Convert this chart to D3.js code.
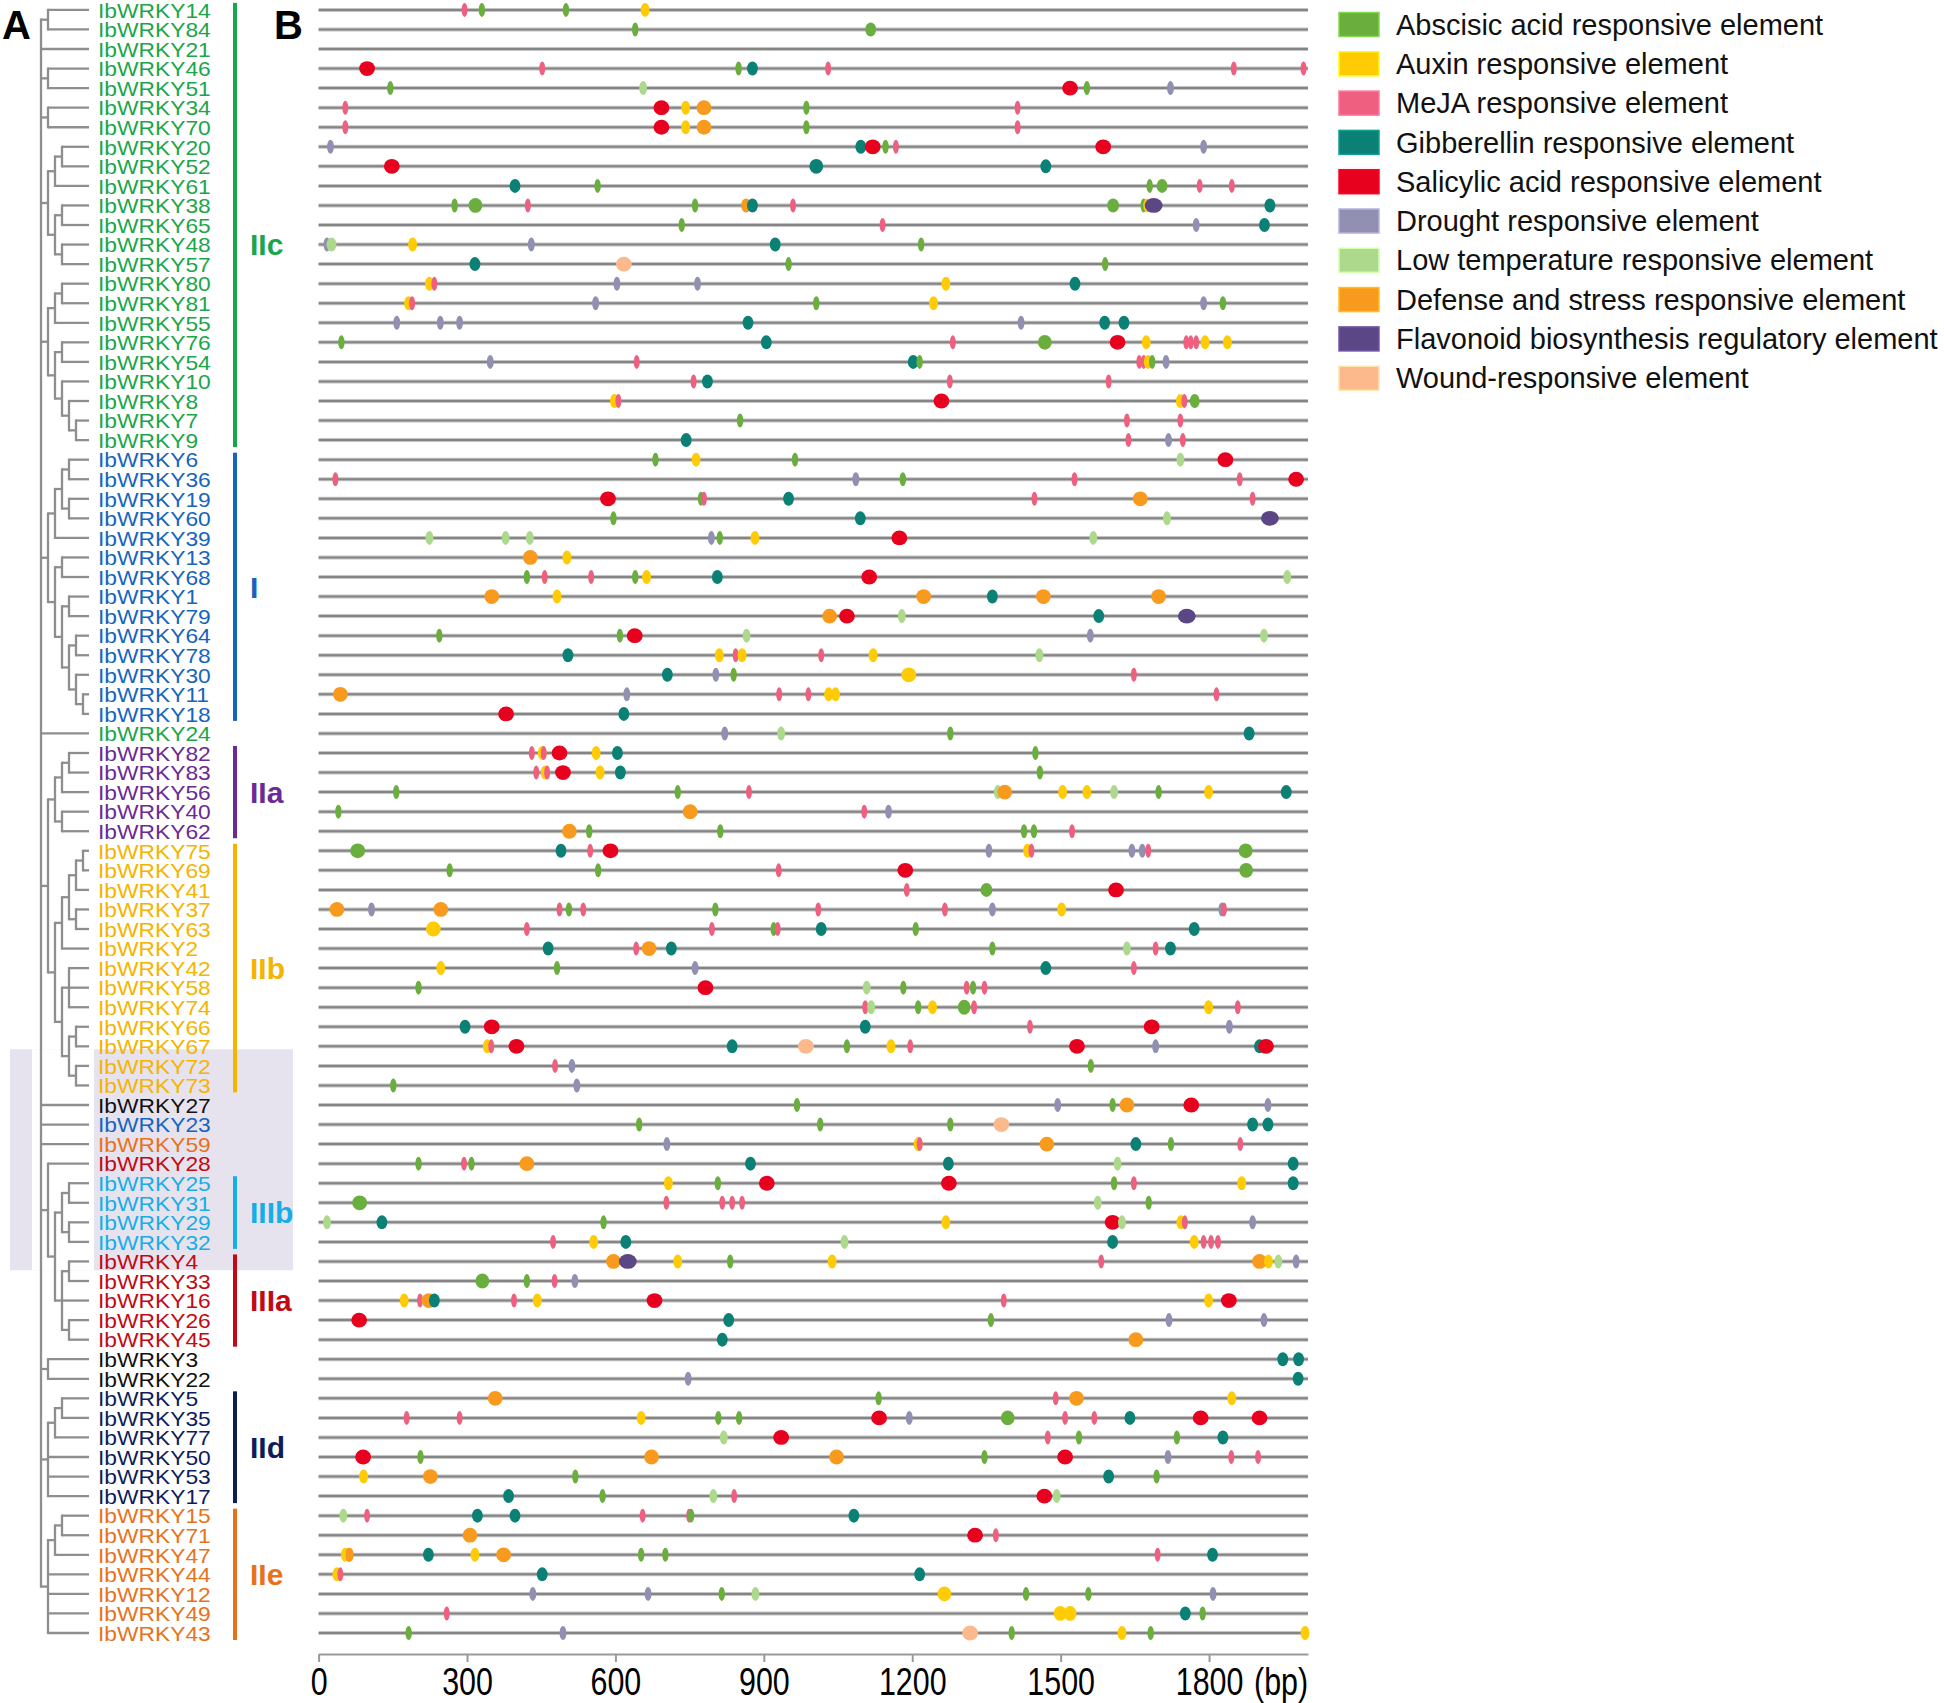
<!DOCTYPE html>
<html><head><meta charset="utf-8">
<script src="https://cdn.jsdelivr.net/npm/d3@7"></script>
<style>
html,body{margin:0;padding:0;background:#fff;}
svg{display:block;font-family:"Liberation Sans",Arial,sans-serif;}
</style></head>
<body>
<svg id="chart" width="1944" height="1703"></svg>
<script>
// ---------------- DATA ----------------
const genes = ["IbWRKY14","IbWRKY84","IbWRKY21","IbWRKY46","IbWRKY51","IbWRKY34","IbWRKY70","IbWRKY20","IbWRKY52","IbWRKY61",
"IbWRKY38","IbWRKY65","IbWRKY48","IbWRKY57","IbWRKY80","IbWRKY81","IbWRKY55","IbWRKY76","IbWRKY54","IbWRKY10",
"IbWRKY8","IbWRKY7","IbWRKY9","IbWRKY6","IbWRKY36","IbWRKY19","IbWRKY60","IbWRKY39","IbWRKY13","IbWRKY68",
"IbWRKY1","IbWRKY79","IbWRKY64","IbWRKY78","IbWRKY30","IbWRKY11","IbWRKY18","IbWRKY24","IbWRKY82","IbWRKY83",
"IbWRKY56","IbWRKY40","IbWRKY62","IbWRKY75","IbWRKY69","IbWRKY41","IbWRKY37","IbWRKY63","IbWRKY2","IbWRKY42",
"IbWRKY58","IbWRKY74","IbWRKY66","IbWRKY67","IbWRKY72","IbWRKY73","IbWRKY27","IbWRKY23","IbWRKY59","IbWRKY28",
"IbWRKY25","IbWRKY31","IbWRKY29","IbWRKY32","IbWRKY4","IbWRKY33","IbWRKY16","IbWRKY26","IbWRKY45","IbWRKY3",
"IbWRKY22","IbWRKY5","IbWRKY35","IbWRKY77","IbWRKY50","IbWRKY53","IbWRKY17","IbWRKY15","IbWRKY71","IbWRKY47",
"IbWRKY44","IbWRKY12","IbWRKY49","IbWRKY43"];

const geneClass = ["IIc","IIc","IIc","IIc","IIc","IIc","IIc","IIc","IIc","IIc",
"IIc","IIc","IIc","IIc","IIc","IIc","IIc","IIc","IIc","IIc",
"IIc","IIc","IIc","I","I","I","I","I","I","I",
"I","I","I","I","I","I","I","IIc","IIa","IIa",
"IIa","IIa","IIa","IIb","IIb","IIb","IIb","IIb","IIb","IIb",
"IIb","IIb","IIb","IIb","IIb","IIb","other","I","IIe","IIIa",
"IIIb","IIIb","IIIb","IIIb","IIIa","IIIa","IIIa","IIIa","IIIa","other",
"other","IId","IId","IId","IId","IId","IId","IIe","IIe","IIe",
"IIe","IIe","IIe","IIe"];

// phylogenetic tree topology (leaf numbers = IbWRKY ids)
const tree = [
  [14,84], 21, [46,51], [34,70],
  [[[20,52],61],[[38,65],[48,57]]],
  [[[80,81],55],[[76,54],[10,[8,[7,9]]]]],
  [[[[6,36],[19,60]],39],[[13,68],[[1,79],[[64,78],[30,[11,18]]]]]],
  24,
  [[[[82,83],56],[40,62]],[[[[[75,69],41],[37,63]],2],[[42,58,74],[[66,67],[72,73]]]]],
  27, 23, 59,
  [28,[[[25,31],[29,32]],[[4,33],16,[26,45]]]],
  [3,22],
  [[[5,35],77],50,53,17],
  [[[15,71],47],44,12,49,43]
];

const groupNames = ["IIc","I","IIa","IIb","IIIb","IIIa","IId","IIe"];
const groupFirst = ["IbWRKY14","IbWRKY6","IbWRKY82","IbWRKY75","IbWRKY25","IbWRKY4","IbWRKY5","IbWRKY15"];
const groupLast  = ["IbWRKY9","IbWRKY18","IbWRKY62","IbWRKY73","IbWRKY32","IbWRKY45","IbWRKY17","IbWRKY43"];
const groupLabelAt = ["IbWRKY48",null,null,null,null,null,null,null];
const highlightFirst = "IbWRKY72", highlightLast = "IbWRKY4";

const elementCodes = ["A","Y","M","T","R","D","L","O","F","W"];
const elementNames = ["Abscisic acid responsive element","Auxin responsive element","MeJA responsive element",
"Gibberellin responsive element","Salicylic acid responsive element","Drought responsive element",
"Low temperature responsive element","Defense and stress responsive element",
"Flavonoid biosynthesis regulatory element","Wound-responsive element"];
// typical motif span (bp) per element type
const elementSpan = [13,18,12,22,32,14,16,30,36,32];

const axisTicks = [0,300,600,900,1200,1500,1800];
const promoterLength = 2000;

// cis-element sites per gene: [type, position (bp), optional span (bp)]
const sites = [
 [["M",295],["A",330],["A",500],["Y",660]],
 [["A",640],["A",1116,22]],
 [],
 [["R",98],["M",452],["A",849],["T",877],["M",1030],["M",1850],["M",1991]],
 [["A",145],["L",656],["R",1519],["A",1553],["D",1722]],
 [["M",54],["R",693],["Y",742],["O",779],["A",986],["M",1413]],
 [["M",54],["R",693],["Y",742],["O",779],["A",986],["M",1413]],
 [["D",24],["T",1096],["R",1120],["A",1146],["M",1167],["R",1586],["D",1789]],
 [["R",148],["T",1006,28],["T",1470]],
 [["T",397],["A",564],["A",1680],["A",1705,22],["M",1781],["M",1846]],
 [["A",275],["A",317,28],["M",423],["A",761],["O",864,20],["T",877],["M",959],["A",1606,24],["A",1668],["Y",1676],["F",1688],["T",1923]],
 [["A",734],["M",1140],["D",1774],["T",1912]],
 [["D",17],["L",26,20],["Y",190],["D",430],["T",923],["A",1218]],
 [["T",316],["W",617],["A",950],["A",1590]],
 [["Y",224],["M",234],["D",603],["D",766],["Y",1268],["T",1529]],
 [["Y",182],["M",189],["D",560],["A",1006],["Y",1243],["D",1789],["A",1828]],
 [["D",158],["D",246],["D",285],["T",868],["D",1420],["T",1589],["T",1628]],
 [["A",46],["T",905],["M",1282],["A",1468,28],["R",1615],["Y",1673],["M",1754],["M",1763],["M",1774],["Y",1792],["Y",1837]],
 [["D",347],["M",643],["T",1202],["A",1215],["M",1659],["M",1668],["Y",1677],["A",1685],["D",1713]],
 [["M",758],["T",786],["M",1276],["M",1597]],
 [["Y",598],["M",606],["R",1259],["Y",1742],["M",1750],["A",1771,20]],
 [["A",852],["M",1634],["M",1742]],
 [["T",743],["M",1637],["D",1718],["M",1747]],
 [["A",681],["Y",763],["A",963],["L",1742],["R",1833]],
 [["M",34],["D",1086],["A",1181],["M",1528],["M",1862],["R",1976]],
 [["R",585],["A",773],["M",779],["T",950],["M",1447],["O",1661],["M",1888]],
 [["A",596],["T",1095],["L",1715],["F",1923]],
 [["L",224],["L",378],["L",427],["D",794],["A",811],["Y",882],["R",1174],["L",1566]],
 [["O",428],["Y",502]],
 [["A",421],["M",457],["M",551],["A",640],["Y",663],["T",806],["R",1113],["L",1958]],
 [["O",350],["Y",482],["O",1223],["T",1362],["O",1465],["O",1698]],
 [["O",1033],["R",1068],["L",1179],["T",1577],["F",1755]],
 [["A",244],["A",609],["R",639],["L",865],["D",1560],["L",1911]],
 [["T",504],["Y",810],["M",843],["Y",856],["M",1016],["Y",1121],["L",1457]],
 [["T",705],["D",803],["A",839],["Y",1193,30],["M",1648]],
 [["O",44],["D",623],["M",931],["M",990],["Y",1031],["Y",1045],["M",1815]],
 [["R",379],["T",617]],
 [["D",821],["L",935],["A",1277],["T",1881]],
 [["M",431],["Y",452],["M",455],["R",487],["Y",561],["T",604],["A",1449]],
 [["M",440],["Y",458],["M",462],["R",494],["Y",569],["T",610],["A",1458]],
 [["A",157],["A",726],["M",870],["L",1373],["O",1387],["Y",1504],["Y",1553],["L",1608],["A",1698],["Y",1799],["T",1956]],
 [["A",40],["O",751],["M",1103],["D",1152]],
 [["O",507],["A",547],["A",812],["A",1426],["A",1446],["M",1523]],
 [["A",79,30],["T",490],["M",549],["R",590],["D",1355],["Y",1433],["M",1441],["D",1644],["D",1665],["M",1677],["A",1874,28]],
 [["A",265],["A",565],["M",930],["R",1186],["A",1875,28]],
 [["M",1189],["A",1350,24],["R",1612]],
 [["O",37],["D",107],["O",247],["M",487],["A",506],["M",535],["A",802],["M",1010],["M",1266],["D",1362],["Y",1502],["D",1826],["M",1830]],
 [["Y",232,30],["M",421],["M",795],["A",920],["M",928],["T",1016],["A",1207],["T",1770]],
 [["T",464],["M",642],["O",668],["T",713],["A",1362],["L",1634],["M",1692],["T",1722]],
 [["Y",247],["A",482],["D",761],["T",1470],["M",1648]],
 [["A",202],["R",782],["L",1108],["A",1182],["M",1310],["A",1323],["M",1346]],
 [["M",1105],["L",1117],["A",1212],["Y",1241],["A",1305,26],["M",1325],["Y",1799],["M",1858]],
 [["T",296],["R",350],["T",1105],["M",1438],["R",1684],["D",1841]],
 [["Y",341],["M",349],["R",400],["T",836],["W",985],["A",1068],["Y",1157],["M",1196],["R",1533],["D",1692],["T",1902],["R",1915]],
 [["M",478],["D",512],["A",1561]],
 [["A",151],["D",522]],
 [["A",967],["D",1494],["A",1605],["O",1634],["R",1764],["D",1919]],
 [["A",648],["A",1014],["A",1277],["W",1380],["T",1888],["T",1919]],
 [["D",704],["Y",1212],["M",1215],["O",1472],["T",1652],["A",1723],["M",1863]],
 [["A",202],["M",294],["A",309],["O",421],["T",873],["T",1273],["L",1615],["T",1970]],
 [["Y",707],["A",807],["R",906],["R",1274],["A",1608],["M",1648],["Y",1866],["T",1970]],
 [["A",83,30],["M",703],["M",816],["M",836],["M",856],["L",1575],["A",1678]],
 [["L",17],["T",128],["A",576],["Y",1268],["R",1605],["L",1624],["Y",1743],["M",1751],["D",1888]],
 [["M",474],["Y",556],["T",621],["L",1063],["T",1605],["Y",1770],["M",1789],["M",1804],["M",1818]],
 [["O",596],["F",625],["Y",726],["A",832],["Y",1038],["M",1582],["O",1902],["Y",1920],["L",1940],["D",1976]],
 [["A",331,28],["A",421],["M",477],["D",518]],
 [["Y",173],["M",205],["O",223],["T",234],["M",395],["Y",442],["R",679],["M",1385],["Y",1799],["R",1840]],
 [["R",82],["T",829],["A",1359],["D",1719],["D",1911]],
 [["T",816],["O",1652]],
 [["T",1949],["T",1981]],
 [["D",747],["T",1980]],
 [["O",357],["A",1132],["M",1490],["O",1532],["Y",1846]],
 [["M",178],["M",285],["Y",652],["A",808],["A",850],["R",1133],["D",1194],["A",1393,28],["M",1509],["M",1568],["T",1640],["R",1783],["R",1902]],
 [["L",819],["R",935],["M",1474],["A",1537],["A",1735],["T",1828]],
 [["R",90],["A",206],["O",673],["O",1047],["A",1346],["R",1509],["D",1717],["M",1845],["M",1899]],
 [["Y",91],["O",226],["A",519],["T",1597],["A",1694]],
 [["T",384],["A",574],["L",798],["M",840],["R",1467],["L",1492]],
 [["L",50],["M",98],["T",321],["T",397],["M",655],["M",749],["A",753],["T",1082]],
 [["O",306],["R",1327],["M",1369]],
 [["Y",54],["M",61],["O",63,16],["T",222],["Y",316],["O",374],["A",652],["A",701],["M",1696],["T",1807]],
 [["Y",37],["M",44],["T",452],["T",1215]],
 [["D",433],["D",666],["A",815],["L",883],["Y",1265,28],["A",1430],["A",1556],["D",1808]],
 [["M",259],["Y",1499,26],["Y",1519,26],["T",1752],["A",1787]],
 [["A",182],["D",494],["W",1317],["A",1401],["Y",1624],["A",1682],["Y",1994]]
];

// ---------------- STYLE ----------------
const elementColors = ["#6aae3d","#ffcb05","#ee5f80","#0b8176","#e8001f","#9190b3","#acd98c","#f89a1d","#5b4686","#fcb98b"];
const classColors = {"IIc":"#1aa64b","I":"#1565be","IIa":"#6a2a97","IIb":"#f5b400","IIIb":"#16aee7","IIIa":"#c10a15","IId":"#0d1d5a","IIe":"#e8721c","other":"#111111"};

const svg = d3.select("#chart");
svg.append("rect").attr("width",1944).attr("height",1703).attr("fill","#fff");

const x = d3.scaleLinear().domain([0, promoterLength]).range([318.6, 1308]);
const y = d3.scalePoint().domain(genes).range([9.9, 1633]);
const step = y.step();

// highlight box
const hTop = y(highlightFirst) - 0.85*step, hBot = y(highlightLast) + 0.45*step;
svg.append("rect").attr("x",10).attr("y",hTop).attr("width",283).attr("height",hBot-hTop).attr("fill","#e7e3ee");
svg.append("rect").attr("x",32).attr("y",hTop).attr("width",62).attr("height",hBot-hTop).attr("fill","#fff");

// panel letters
svg.append("text").attr("x",2).attr("y",39).attr("font-size",40).attr("font-weight","bold").text("A");
svg.append("text").attr("x",274).attr("y",39).attr("font-size",40).attr("font-weight","bold").text("B");

// ---------------- TREE ----------------
const root = d3.hierarchy(tree, d => Array.isArray(d) ? d : null);
const treeX0 = 41, treeStep = 7, leafX = 89;
root.eachAfter(n => {
  if (!n.children) { n.py = y("IbWRKY"+n.data); n.px = leafX; }
  else { n.py = (n.children[0].py + n.children[n.children.length-1].py)/2; n.px = treeX0 + n.depth*treeStep; }
});
const tg = svg.append("g").attr("stroke","#8e8e8e").attr("stroke-width",2.3).attr("fill","none");
root.each(n => {
  if (!n.children) return;
  const c0 = n.children[0], c1 = n.children[n.children.length-1];
  tg.append("line").attr("x1",n.px).attr("x2",n.px).attr("y1",c0.py-1.1).attr("y2",c1.py+1.1);
  n.children.forEach(c => tg.append("line").attr("x1",n.px).attr("x2",c.px).attr("y1",c.py).attr("y2",c.py));
});

// gene labels
svg.append("g").selectAll("text").data(genes).join("text")
  .attr("transform",d=>`translate(98,${y(d)+0.6}) scale(1.14,1)`).attr("dy","0.36em")
  .attr("font-size",20).attr("fill",(d,i)=>classColors[geneClass[i]]).text(d=>d);

// group bars and labels
groupNames.forEach((g,i) => {
  const t = y(groupFirst[i]) - 7, b = y(groupLast[i]) + 7;
  svg.append("rect").attr("x",233).attr("y",t).attr("width",4).attr("height",b-t).attr("fill",classColors[g]);
  const ly = groupLabelAt[i] ? y(groupLabelAt[i]) : (t+b)/2;
  svg.append("text").attr("x",250).attr("y",ly).attr("dy","0.36em").attr("font-size",30)
    .attr("font-weight","bold").attr("fill",classColors[g]).text(g);
});

// ---------------- PROMOTER LINES ----------------
const lg = svg.append("g");
lg.selectAll("line.bg").data(genes).join("line").attr("class","bg")
  .attr("x1",x(0)).attr("x2",x(promoterLength)).attr("y1",d=>y(d)).attr("y2",d=>y(d))
  .attr("stroke","#c4c4c4").attr("stroke-width",4);
lg.selectAll("line.fg").data(genes).join("line").attr("class","fg")
  .attr("x1",x(0)).attr("x2",x(promoterLength)).attr("y1",d=>y(d)).attr("y2",d=>y(d))
  .attr("stroke","#858585").attr("stroke-width",2);

const flat = [];
sites.forEach((arr,gi) => arr.forEach(s => {
  const ti = elementCodes.indexOf(s[0]);
  flat.push({gene:genes[gi], type:ti, pos:s[1], span: s.length>2 ? s[2] : elementSpan[ti]});
}));
svg.append("g").selectAll("ellipse").data(flat).join("ellipse")
  .attr("cx",d=>x(d.pos)).attr("cy",d=>y(d.gene))
  .attr("rx",d=>(x(d.span)-x(0))/2).attr("ry",d=>d.span>=26?7.4:7)
  .attr("fill",d=>elementColors[d.type]);

// ---------------- AXIS ----------------
const axisY = 1654;
const ax = svg.append("g").attr("transform",`translate(0,${axisY})`)
  .call(d3.axisBottom(x).tickValues(axisTicks).tickSize(8).tickSizeOuter(0).tickFormat(d3.format("d")));
ax.select(".domain").attr("stroke","#9a9a9a").attr("stroke-width",2);
ax.selectAll(".tick line").attr("stroke","#9a9a9a").attr("stroke-width",2);
ax.selectAll(".tick text").attr("font-size",38).attr("fill","#000").attr("y",14)
  .attr("font-family","'Liberation Sans',Arial,sans-serif").attr("transform","scale(0.8,1)");
const bpX = x(1800)+45;
svg.append("text").attr("transform",`translate(${bpX},${axisY+14}) scale(0.8,1)`).attr("dy","0.71em")
  .attr("font-size",38).text("(bp)");

// ---------------- LEGEND ----------------
const leg = svg.append("g");
elementNames.forEach((nm,i) => {
  const cy = 24.5 + i*39.3;
  leg.append("rect").attr("x",1339).attr("y",cy-12).attr("width",40).attr("height",24)
    .attr("fill",elementColors[i]).attr("stroke",d3.color(elementColors[i]).brighter(0.6)).attr("stroke-width",1.5);
  leg.append("text").attr("x",1396).attr("y",cy).attr("dy","0.35em").attr("font-size",29).attr("fill","#111").text(nm);
});
</script>
</body></html>
